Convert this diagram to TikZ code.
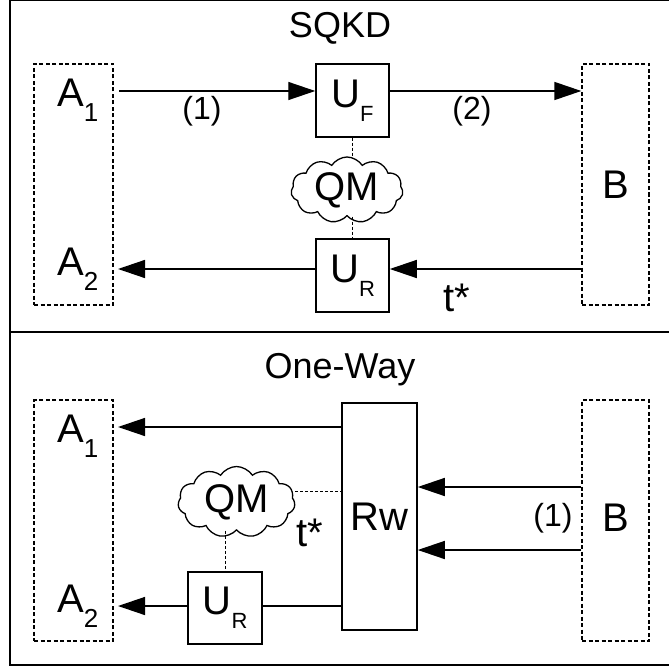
\documentclass[tikz,border=0pt]{standalone}
\usepackage{fontspec}
\setmainfont{Liberation Sans}
\usetikzlibrary{arrows.meta,shapes.symbols}

\newcommand\subA[1]{\raisebox{-15pt}{\fontsize{26}{26}\selectfont #1}}
\newcommand\subU[1]{\raisebox{-14pt}{\fontsize{22}{22}\selectfont #1}}

\begin{document}
\begin{tikzpicture}[
            x=1pt, y=-1pt,
            every node/.style={
                font=\fontsize{40}{48}\selectfont,
                inner sep=0pt
            },
            title/.style={font=\fontsize{36}{43}\selectfont},
            num/.style={font=\fontsize{32}{38}\selectfont},
            party/.style={draw, dash pattern=on 4pt off 2.5pt, line width=1.3pt},
            unit/.style={draw, line width=1.5pt, fill=white},
            qm/.style={cloud, cloud puffs=11, cloud puff arc=115, aspect=1.7,
                draw, line width=1.3pt, fill=white},
            arr/.style={line width=1.4pt, -{Triangle[length=27pt,width=18pt]}},
            link/.style={line width=1.4pt},
            dots/.style={line width=1pt, dash pattern=on 3pt off 2pt}
        ]
            \useasboundingbox (0,0) rectangle (668,668);
            \draw[line width=2.5pt] (10,-0.5) rectangle (672,332);
            \draw[line width=2.5pt] (10,332) rectangle (672,665);

            % SQKD
            \node[title] (titleT) at (340,28) {SQKD};
            \node[party, minimum width=79, minimum height=241] (AT) at (73.5,184.5) {};
            \node[anchor=base west] (A1T) at (57,107) {A\subA{1}};
            \node[anchor=base west] (A2T) at (57,275) {A\subA{2}};
            \node[party, minimum width=67, minimum height=241] (BT) at (615.5,184.5) {};
            \node (BlT) at (615.5,185) {B};
            \node[unit, minimum size=73] (UF) at (352.5,100.5) {U\subU{F}};
            \node[qm, minimum width=112, minimum height=66] (QMT) at (347,190) {QM};
            \node[unit, minimum size=73] (URT) at (352.5,275.5) {U\subU{R}};

            \coordinate (fT1) at (119,91);
            \coordinate (fT2) at (118,269);

            \draw[arr] (fT1) -- (UF.west |- fT1);
            \node[num] (n1T) at (202,111) {(1)};
            \draw[arr] (UF.east |- fT1) -- (BT.west |- fT1);
            \node[num] (n2T) at (472,111) {(2)};
            \draw[dots] (UF.south) -- (UF.south |- QMT.north);
            \draw[dots] (URT.north |- QMT.south) -- (URT.north);
            \draw[arr] (BT.west |- fT2) -- (URT.east |- fT2);
            \node (tT) at (457,298) {t*};
            \draw[arr] (URT.west |- fT2) -- (fT2);

            % One-Way
            \node[title] (titleB) at (340,370) {One-Way};
            \node[party, minimum width=79, minimum height=241] (AB) at (73.5,520.5) {};
            \node[anchor=base west] (A1B) at (57,442) {A\subA{1}};
            \node[anchor=base west] (A2B) at (57,612) {A\subA{2}};
            \node[party, minimum width=67, minimum height=241] (BB) at (615.5,520.5) {};
            \node (BlB) at (615.5,518) {B};
            \node[unit, minimum width=75, minimum height=227] (Rw) at (379.5,516.5) {Rw};
            \node[qm, minimum width=117, minimum height=71] (QMB) at (236.5,502) {QM};
            \node[unit, minimum width=74, minimum height=72] (URB) at (225,608) {U\subU{R}};

            \coordinate (fB1) at (118,427);
            \coordinate (fB2) at (118,606);
            \coordinate (hB1) at (0,487);
            \coordinate (hB2) at (0,550);
            \coordinate (hB3) at (0,491);

            \draw[arr] (Rw.west |- fB1) -- (fB1);
            \draw[arr] (BB.west |- hB1) -- (Rw.east |- hB1);
            \draw[arr] (BB.west |- hB2) -- (Rw.east |- hB2);
            \node[num] (n1B) at (553,518) {(1)};
            \draw[dots] (QMB.east |- hB3) -- (Rw.west |- hB3);
            \node (tB) at (310,533) {t*};
            \draw[dots] (URB.north |- QMB.south) -- (URB.north);
            \draw[link] (Rw.west |- fB2) -- (URB.east |- fB2);
            \draw[arr] (URB.west |- fB2) -- (fB2);
        \end{tikzpicture}
\end{document}
